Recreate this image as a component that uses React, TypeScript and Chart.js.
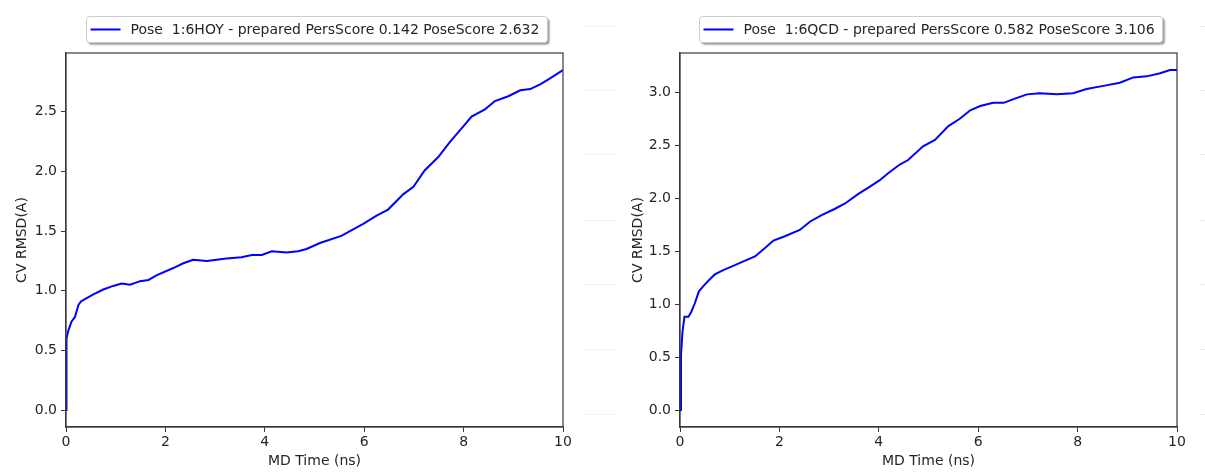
import React, { useEffect, useRef } from "react";
import { Chart, registerables } from "chart.js";

Chart.register(...registerables);

// ---------- data ----------
const leftTime = [0, 0.01, 0.05, 0.11, 0.18, 0.25, 0.3, 0.38, 0.55, 0.75, 0.95, 1.12, 1.29, 1.49, 1.66, 1.83, 2.16, 2.36, 2.56, 2.83, 3.23, 3.53, 3.74, 3.94, 4.14, 4.44, 4.67, 4.84, 5.11, 5.54, 5.98, 6.25, 6.48, 6.79, 6.99, 7.22, 7.49, 7.73, 7.96, 8.16, 8.43, 8.63, 8.9, 9.14, 9.34, 9.54, 9.74, 10.0];
const leftRmsd = [0, 0.6, 0.67, 0.74, 0.78, 0.88, 0.91, 0.93, 0.97, 1.01, 1.04, 1.06, 1.05, 1.08, 1.09, 1.13, 1.19, 1.23, 1.26, 1.25, 1.27, 1.28, 1.3, 1.3, 1.33, 1.32, 1.33, 1.35, 1.4, 1.46, 1.56, 1.63, 1.68, 1.81, 1.87, 2.01, 2.12, 2.25, 2.36, 2.46, 2.52, 2.59, 2.63, 2.68, 2.69, 2.73, 2.78, 2.85];

const rightTime = [0, 0.02, 0.05, 0.09, 0.17, 0.23, 0.3, 0.38, 0.47, 0.57, 0.7, 0.87, 1.07, 1.31, 1.51, 1.71, 1.88, 2.11, 2.41, 2.62, 2.85, 3.12, 3.32, 3.59, 3.79, 4.02, 4.2, 4.43, 4.59, 4.89, 5.13, 5.4, 5.63, 5.84, 6.04, 6.3, 6.51, 6.74, 6.98, 7.24, 7.58, 7.91, 8.18, 8.52, 8.85, 9.12, 9.39, 9.66, 9.86, 10.0];
const rightRmsd = [0, 0.52, 0.74, 0.88, 0.88, 0.93, 1.01, 1.12, 1.17, 1.22, 1.28, 1.32, 1.36, 1.41, 1.45, 1.53, 1.6, 1.64, 1.7, 1.78, 1.84, 1.9, 1.95, 2.04, 2.1, 2.17, 2.24, 2.32, 2.36, 2.49, 2.55, 2.68, 2.75, 2.83, 2.87, 2.9, 2.9, 2.94, 2.98, 2.99, 2.98, 2.99, 3.03, 3.06, 3.09, 3.14, 3.15, 3.18, 3.21, 3.21];

const leftLabel = "Pose  1:6HOY - prepared PersScore 0.142 PoseScore 2.632";
const rightLabel = "Pose  1:6QCD - prepared PersScore 0.582 PoseScore 3.106";

const xTicks = [0, 2, 4, 6, 8, 10];
const leftYTicks = [0, 0.5, 1.0, 1.5, 2.0, 2.5];
const rightYTicks = [0, 0.5, 1.0, 1.5, 2.0, 2.5, 3.0];

const xTitle = "MD Time (ns)";
const yTitle = "CV RMSD(A)";

// ---------- styling ----------
const FONT = "'DejaVu Sans', sans-serif";
const TEXT = "#262626";
const LINE = "#0000ff";

const decoYs = [26, 90, 154, 220, 284, 349, 414];

function roundRect(ctx: CanvasRenderingContext2D, x: number, y: number, w: number, h: number, r: number) {
  ctx.beginPath();
  ctx.moveTo(x + r, y);
  ctx.lineTo(x + w - r, y);
  ctx.quadraticCurveTo(x + w, y, x + w, y + r);
  ctx.lineTo(x + w, y + h - r);
  ctx.quadraticCurveTo(x + w, y + h, x + w - r, y + h);
  ctx.lineTo(x + r, y + h);
  ctx.quadraticCurveTo(x, y + h, x, y + h - r);
  ctx.lineTo(x, y + r);
  ctx.quadraticCurveTo(x, y, x + r, y);
  ctx.closePath();
}

const framePlugin = {
  id: "frameAndLegend",
  afterDraw(chart: any) {
    const ctx: CanvasRenderingContext2D = chart.ctx;
    const ca = chart.chartArea;
    ctx.save();
    // frame (spines)
    ctx.strokeStyle = "#3a3a3a";
    ctx.lineWidth = 1.2;
    ctx.strokeRect(ca.left, ca.top, ca.right - ca.left, ca.bottom - ca.top);

    // legend
    const ds = chart.data.datasets[0];
    ctx.font = `14px ${FONT}`;
    const tw = ctx.measureText(ds.label).width;
    const w = 4 + 30 + 10 + tw + 8;
    const h = 26;
    const cx = (ca.left + ca.right) / 2 + 2;
    const x = Math.round(cx - w / 2) + 0.5;
    const y = 16.5;
    ctx.save();
    ctx.shadowColor = "rgba(0,0,0,0.45)";
    ctx.shadowOffsetX = 2;
    ctx.shadowOffsetY = 2;
    ctx.shadowBlur = 2;
    ctx.fillStyle = "#ffffff";
    roundRect(ctx, x, y, w, h, 3);
    ctx.fill();
    ctx.restore();
    ctx.strokeStyle = "#cccccc";
    ctx.lineWidth = 1;
    roundRect(ctx, x, y, w, h, 3);
    ctx.stroke();
    ctx.strokeStyle = ds.borderColor;
    ctx.lineWidth = 2;
    ctx.beginPath();
    ctx.moveTo(x + 4, y + h / 2);
    ctx.lineTo(x + 34, y + h / 2);
    ctx.stroke();
    ctx.fillStyle = TEXT;
    ctx.textBaseline = "middle";
    ctx.textAlign = "left";
    ctx.fillText(ds.label, x + 44, y + h / 2 + 0.5);
    ctx.restore();
  },
};

type PanelProps = {
  time: number[];
  values: number[];
  label: string;
  yTicks: number[];
  yMin: number;
  yMax: number;
  left: number;
  width: number;
  yAxisWidth: number;
  padRight: number;
  yTitlePad: number;
};

function Panel(p: PanelProps) {
  const ref = useRef<HTMLCanvasElement | null>(null);
  useEffect(() => {
    if (!ref.current) return;
    const tickFont = { family: FONT, size: 14 };
    const chart = new Chart(ref.current, {
      type: "line",
      data: {
        datasets: [
          {
            label: p.label,
            data: p.time.map((t, i) => ({ x: t, y: p.values[i] })),
            borderColor: LINE,
            backgroundColor: LINE,
            borderWidth: 2,
            pointRadius: 0,
            tension: 0,
            fill: false,
          },
        ],
      },
      options: {
        responsive: false,
        animation: false,
        devicePixelRatio: 1,
        layout: { padding: { top: 53, left: 0, right: p.padRight, bottom: 0 } },
        plugins: { legend: { display: false }, tooltip: { enabled: false } },
        scales: {
          x: {
            type: "linear",
            min: 0,
            max: 10,
            afterBuildTicks: (s: any) => {
              s.ticks = xTicks.map((v) => ({ value: v }));
            },
            afterFit: (s: any) => {
              s.height = 45;
            },
            ticks: {
              font: tickFont,
              color: TEXT,
              padding: 2,
              maxRotation: 0,
              autoSkip: false,
              callback: (v: any) => String(v),
            },
            grid: { drawOnChartArea: false, drawTicks: true, tickLength: 5, tickColor: "#3a3a3a", tickWidth: 1 },
            border: { display: true, color: "#3a3a3a", width: 1.2 },
            title: { display: true, text: xTitle, font: tickFont, color: TEXT, padding: { top: 0, bottom: 2 } },
          },
          y: {
            type: "linear",
            min: p.yMin,
            max: p.yMax,
            afterBuildTicks: (s: any) => {
              s.ticks = p.yTicks.map((v) => ({ value: v }));
            },
            afterFit: (s: any) => {
              s.width = p.yAxisWidth;
            },
            ticks: {
              font: tickFont,
              color: TEXT,
              padding: 4,
              autoSkip: false,
              callback: (v: any) => Number(v).toFixed(1),
            },
            grid: { drawOnChartArea: false, drawTicks: true, tickLength: 5, tickColor: "#3a3a3a", tickWidth: 1 },
            border: { display: true, color: "#3a3a3a", width: 1.2 },
            title: { display: true, text: yTitle, font: tickFont, color: TEXT, padding: { top: p.yTitlePad, bottom: 0 } },
          },
        },
      },
      plugins: [framePlugin],
    } as any);
    return () => chart.destroy();
  }, []);
  return (
    <canvas
      ref={ref}
      width={p.width}
      height={472}
      style={{ position: "absolute", left: p.left, top: 0, width: p.width, height: 472 }}
    />
  );
}

export default function App() {
  return (
    <div style={{ position: "absolute", left: 0, top: 0, width: 1205, height: 472, overflow: "hidden", background: "#fff" }}>
      <Panel
        time={leftTime}
        values={leftRmsd}
        label={leftLabel}
        yTicks={leftYTicks}
        yMin={-0.1425}
        yMax={2.9925}
        left={0}
        width={602}
        yAxisWidth={66}
        padRight={39}
        yTitlePad={14}
      />
      <Panel
        time={rightTime}
        values={rightRmsd}
        label={rightLabel}
        yTicks={rightYTicks}
        yMin={-0.1605}
        yMax={3.3705}
        left={603}
        width={602}
        yAxisWidth={77}
        padRight={28}
        yTitlePad={27}
      />
      {decoYs.map((y) => (
        <div key={"a" + y} style={{ position: "absolute", left: 583, top: y, width: 35, height: 0, borderTop: "1px dotted #e4e4e4" }} />
      ))}
      {decoYs.map((y) => (
        <div key={"b" + y} style={{ position: "absolute", left: 1198, top: y, width: 7, height: 0, borderTop: "1px dotted #e4e4e4" }} />
      ))}
    </div>
  );
}
